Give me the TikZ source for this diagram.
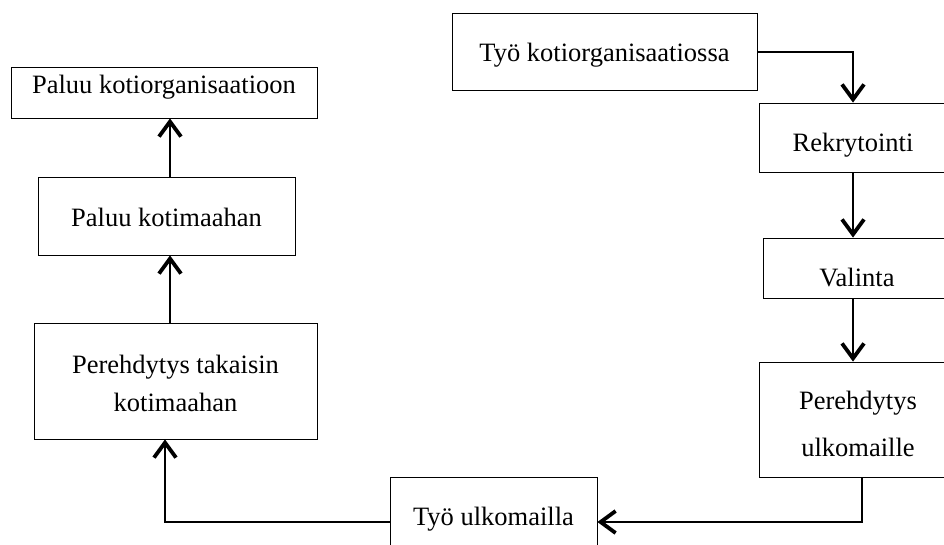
\documentclass[tikz,border=0pt]{standalone}
\usepackage{fontspec}
\setmainfont{Liberation Serif}
\usetikzlibrary{arrows.meta}

\begin{document}
\begin{tikzpicture}[x=1pt,y=-1pt,
  box/.style={draw,line width=0.8pt,inner sep=0pt,align=center,
    font=\fontsize{26.5}{40}\selectfont},
  low/.style={text depth=0pt,text height=#1},
  flow/.style={line width=2pt,-{Straight Barb[length=15pt,width=22pt,line width=3.8pt]}}]
\useasboundingbox (0,0) rectangle (944,544);
\clip (0,0) rectangle (944,544);
% left column
\node[box,low=2.5pt,minimum width=306,minimum height=51] (paluuorg) at (164,92.5) {Paluu kotiorganisaatioon};
\node[box,low=21pt,minimum width=257,minimum height=78] (paluukoti) at (166.5,216) {Paluu kotimaahan};
\node[box,minimum width=283,minimum height=116] (pereta) at (175.5,381) {\rule{0pt}{24pt}Perehdytys takaisin\\[-2pt]kotimaahan};
% right column
\node[box,low=19pt,minimum width=305,minimum height=77] (kotiorg) at (604.5,51.5) {Työ kotiorganisaatiossa};
\node[box,low=27pt,minimum width=188,minimum height=69] (rekry) at (853,137.5) {Rekrytointi};
\node[box,low=36pt,minimum width=188,minimum height=60] (valinta) at (857,268) {Valinta};
\node[box,minimum width=198,minimum height=115] (pereulko) at (858,419.5) {\rule{0pt}{28pt}Perehdytys\\[7pt]ulkomaille};
\node[box,low=14pt,minimum width=207,minimum height=82] (tyoulko) at (493.5,518) {Työ ulkomailla};
% connectors
\coordinate (leftline) at (170,0);
\coordinate (rightline) at (853,0);
\coordinate (lowturn) at (862,522);
\coordinate (leftturn) at (165,522);
\draw[flow] (kotiorg.east) -- (rightline |- kotiorg.east) -- (rightline |- rekry.north);
\draw[flow] (rightline |- rekry.south) -- (rightline |- valinta.north);
\draw[flow] (rightline |- valinta.south) -- (rightline |- pereulko.north);
\draw[flow] (lowturn |- pereulko.south) -- (lowturn) -- (tyoulko.east |- lowturn);
\draw[flow] (tyoulko.west |- leftturn) -- (leftturn) -- (leftturn |- pereta.south);
\draw[flow] (leftline |- pereta.north) -- (leftline |- paluukoti.south);
\draw[flow] (leftline |- paluukoti.north) -- (leftline |- paluuorg.south);
\end{tikzpicture}
\end{document}
